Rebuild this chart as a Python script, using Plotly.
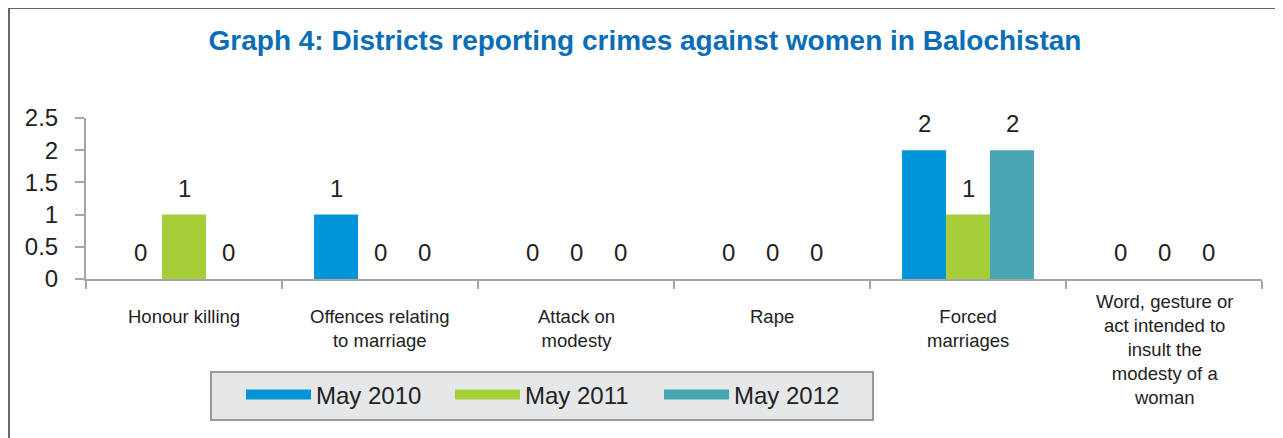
import plotly.graph_objects as go

categories = [
    "Honour killing",
    "Offences relating<br>to marriage",
    "Attack on<br>modesty",
    "Rape",
    "Forced<br>marriages",
    "Word, gesture or<br>act intended to<br>insult the<br>modesty of a<br>woman",
]
series_names = ["May 2010", "May 2011", "May 2012"]
may_2010 = [0, 1, 0, 0, 2, 0]
may_2011 = [1, 0, 0, 0, 1, 0]
may_2012 = [0, 0, 0, 0, 2, 0]
series_values = [may_2010, may_2011, may_2012]
colors = ["#0095d9", "#a6ce39", "#47a6b1"]

OFF = 8  # page body margin
W, H = 1275, 430
ML, MR, MT, MB = 78, 21, 110, 159
PW, PH = W - ML - MR, H - MT - MB

def px_x(p):
    return (p - OFF - ML) / PW

def px_y(p):
    return (H - MB - (p - OFF)) / PH

FONT = "Liberation Sans, Arial, sans-serif"
BAR_PX = 44

fig = go.Figure()
for name, vals, col in zip(series_names, series_values, colors):
    fig.add_trace(go.Bar(
        x=categories, y=vals, name=name, marker=dict(color=col, line=dict(width=0)),
        showlegend=False,
    ))
# legend entries (wide swatches)
for name, col in zip(series_names, colors):
    fig.add_trace(go.Scatter(
        x=[None], y=[None], mode="lines", name=name,
        line=dict(color=col, width=14), showlegend=True,
    ))

annotations = []
# value labels
for j, vals in enumerate(series_values):
    for cat, v in zip(categories, vals):
        annotations.append(dict(
            x=cat, y=v, xref="x", yref="y", text=str(v), showarrow=False,
            xshift=(j - 1) * BAR_PX, yshift=11, yanchor="bottom",
            font=dict(family=FONT, size=24, color="#222222"),
        ))
# category labels (long wrapped label sits a bit higher, as in the original)
for cat in categories:
    lift = 15 if cat.count("<br>") >= 4 else 0
    annotations.append(dict(
        x=cat, y=0, xref="x", yref="y", text=cat, showarrow=False,
        yanchor="top", yshift=-25 + lift, align="center",
        font=dict(family=FONT, size=18.5, color="#222222"),
    ))

fig.update_layout(
    width=W, height=H,
    margin=dict(l=ML, r=MR, t=MT, b=MB, autoexpand=False),
    paper_bgcolor="white", plot_bgcolor="white",
    barmode="group", bargap=0.327, bargroupgap=0,
    title=dict(
        text="<b>Graph 4: Districts reporting crimes against women in Balochistan</b>",
        x=(645 - OFF) / W, xref="container", xanchor="center",
        y=1 - (40.5 - OFF) / H, yanchor="middle",
        font=dict(family=FONT, size=28, color="#0a6db8"),
    ),
    xaxis=dict(
        type="category", showgrid=False, showline=True, linecolor="#a6a6a6", linewidth=2,
        ticks="outside", tickson="boundaries", ticklen=8, tickcolor="#a6a6a6", tickwidth=2,
        showticklabels=False, automargin=False,
    ),
    yaxis=dict(
        range=[0, 2.5], tickvals=[0, 0.5, 1, 1.5, 2, 2.5], ticktext=["0", "0.5", "1", "1.5", "2", "2.5"],
        showgrid=False, zeroline=False, showline=True, linecolor="#a6a6a6", linewidth=2,
        ticks="outside", ticklen=9, tickcolor="#a6a6a6", tickwidth=2,
        tickfont=dict(family=FONT, size=24, color="#222222"), ticklabelstandoff=12,
        automargin=False,
    ),
    legend=dict(
        orientation="h", x=px_x(241), y=px_y(395), xanchor="left", yanchor="middle",
        bgcolor="rgba(0,0,0,0)", borderwidth=0,
        font=dict(family=FONT, size=24, color="#222222"),
        itemwidth=65, entrywidth=129,
    ),
    annotations=annotations,
    shapes=[
        # legend box
        dict(type="rect", xref="paper", yref="paper",
             x0=px_x(211), x1=px_x(873), y0=px_y(372), y1=px_y(420),
             fillcolor="#e6e7e8", line=dict(color="#999999", width=2), layer="below"),
        # frame lines
        dict(type="line", xref="paper", yref="paper", x0=px_x(9), x1=px_x(W + 20), y0=px_y(8), y1=px_y(8),
             line=dict(color="#666666", width=2)),
        dict(type="line", xref="paper", yref="paper", x0=px_x(9), x1=px_x(9), y0=px_y(8), y1=px_y(H + 20),
             line=dict(color="#666666", width=2)),
    ],
)

fig.write_html("out.html")
